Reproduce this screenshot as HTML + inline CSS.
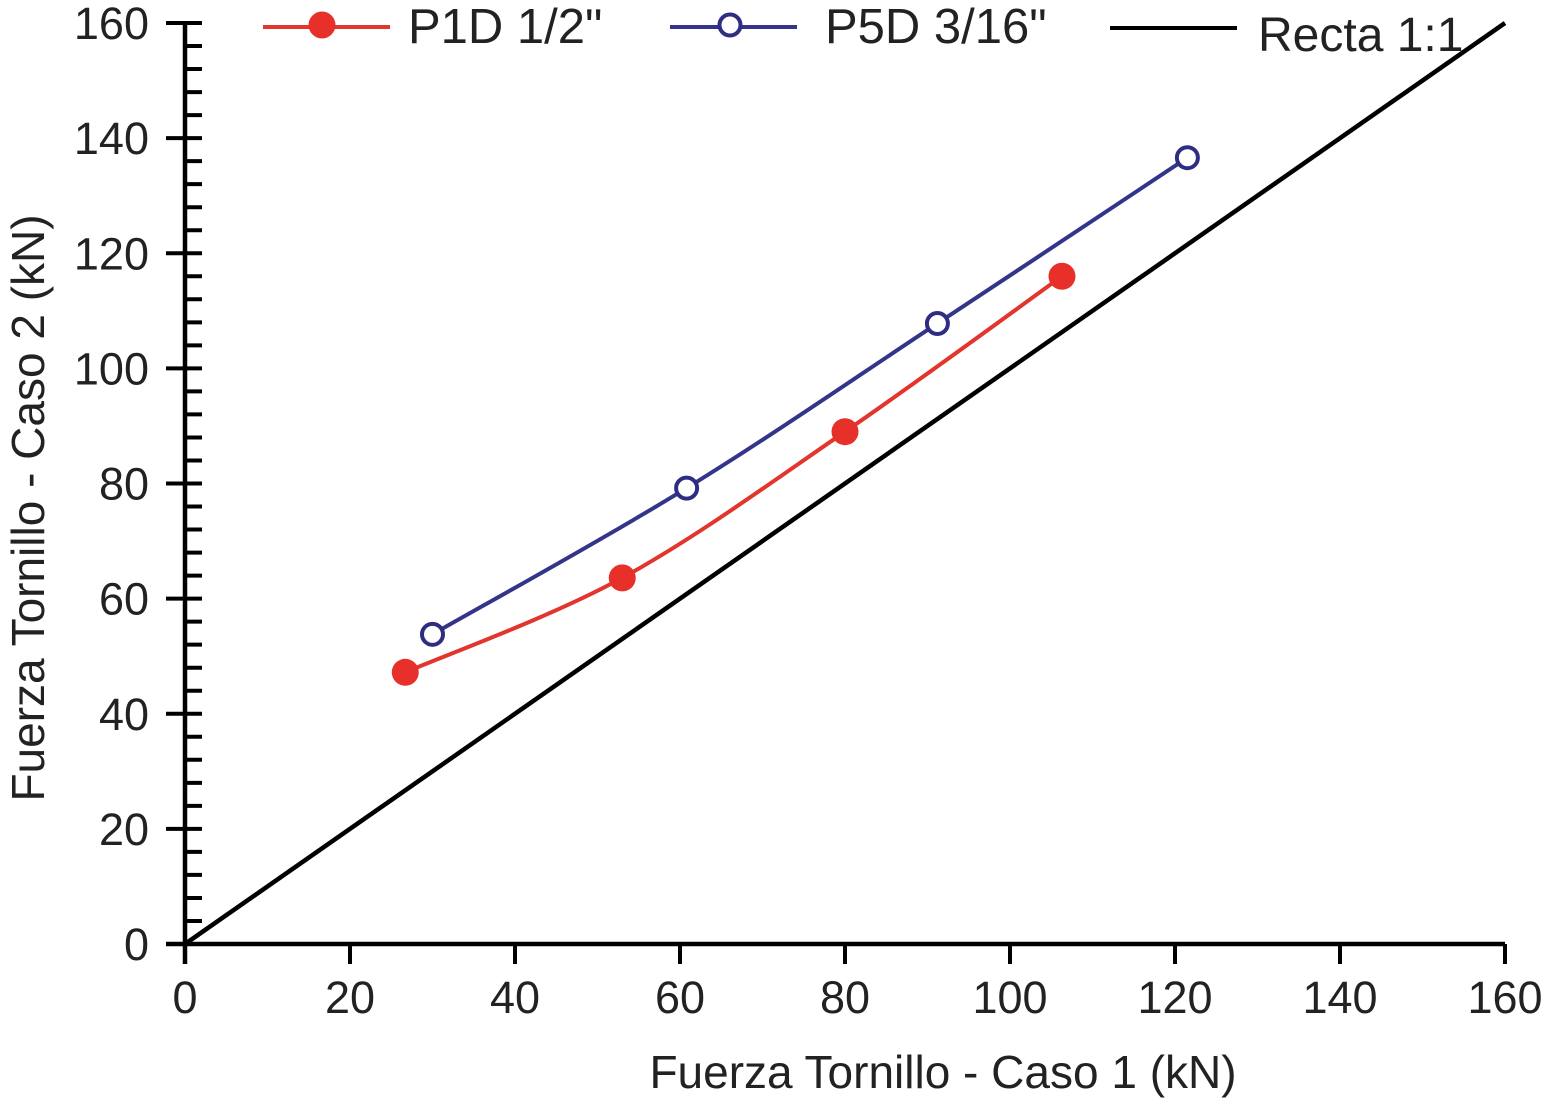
<!DOCTYPE html>
<html><head><meta charset="utf-8"><style>
html,body{margin:0;padding:0;background:#fff;}
svg{display:block;font-family:"Liberation Sans",Arial,sans-serif;}
</style></head><body>
<svg id="chart" width="1546" height="1110" viewBox="0 0 1546 1110"></svg>
<script>
const xTicks=[0,20,40,60,80,100,120,140,160];
const yTicks=[0,20,40,60,80,100,120,140,160];
const p1dX=[26.7,53,80,106.3];
const p1dY=[47.2,63.6,89,116];
const p5dX=[30,60.8,91.2,121.5];
const p5dY=[53.8,79.2,107.8,136.6];
const refX=[0,160];
const refY=[0,160];

const X0=185,X1=1505,Y0=944,Y1=23;
const sx=v=>X0+(v-0)/(160-0)*(X1-X0);
const sy=v=>Y0-(v-0)/(160-0)*(Y0-Y1);
const svg=document.getElementById('chart');
const NS='http://www.w3.org/2000/svg';
function mk(tag,attrs,parent){const e=document.createElementNS(NS,tag);for(const k in attrs)e.setAttribute(k,attrs[k]);(parent||svg).appendChild(e);return e;}

let g=mk('g',{});


let ya=mk('line',{x1:X0,y1:Y1-2,x2:X0,y2:Y0+20,stroke:'#000','stroke-width':4.5},g);


let xa=mk('line',{x1:X0-19,y1:Y0,x2:X1,y2:Y0,stroke:'#000','stroke-width':4.5},g);


for(let v=0;v<=160;v+=4){
  const major=v%20===0;
  const t=mk('line',{x1:major?X0-19:X0,y1:sy(v),x2:X0+17,y2:sy(v),stroke:'#000','stroke-width':4},g);
  
  
}
yTicks.forEach(v=>{
  const t=mk('text',{x:X0-36,y:sy(v)+16,'text-anchor':'end','font-size':45,fill:'#222'},g);
  t.textContent=v;
  
  
});
xTicks.forEach(v=>{
  const t=mk('line',{x1:sx(v),y1:Y0,x2:sx(v),y2:Y0+20,stroke:'#000','stroke-width':4},g);
  
  
  const l=mk('text',{x:sx(v),y:1013,'text-anchor':'middle','font-size':45,fill:'#222'},g);
  l.textContent=v;
  
  
});
let xt=mk('text',{x:943,y:1088,'text-anchor':'middle','font-size':46,fill:'#222'});
xt.textContent='Fuerza Tornillo - Caso 1 (kN)';


let yt=mk('text',{x:0,y:0,'text-anchor':'middle','font-size':46,fill:'#222',transform:'translate(44,508) rotate(-90)'});
yt.textContent='Fuerza Tornillo - Caso 2 (kN)';



let rl=mk('line',{x1:sx(refX[0]),y1:sy(refY[0]),x2:sx(refX[1]),y2:sy(refY[1]),stroke:'#000','stroke-width':4.5});



function smooth(xs,ys){
  const p=xs.map((x,i)=>[sx(x),sy(ys[i])]);
  let d='M'+p[0][0]+','+p[0][1];
  for(let i=0;i<p.length-1;i++){
    const p0=p[i-1]||p[i],p1=p[i],p2=p[i+1],p3=p[i+2]||p2;
    const c1=[p1[0]+(p2[0]-p0[0])/6,p1[1]+(p2[1]-p0[1])/6];
    const c2=[p2[0]-(p3[0]-p1[0])/6,p2[1]-(p3[1]-p1[1])/6];
    d+=' C'+c1+' '+c2+' '+p2;
  }
  return d;
}
let red=mk('path',{d:smooth(p1dX,p1dY),fill:'none',stroke:'#e2352d','stroke-width':4});


let blue=mk('path',{d:smooth(p5dX,p5dY),fill:'none',stroke:'#34348a','stroke-width':4});


p1dX.forEach((x,i)=>{
  const c=mk('circle',{cx:sx(x),cy:sy(p1dY[i]),r:13.5,fill:'#e8302a'});
  
  
});
p5dX.forEach((x,i)=>{
  const c=mk('circle',{cx:sx(x),cy:sy(p5dY[i]),r:10.5,fill:'#fff',stroke:'#2e2d82','stroke-width':4});
  
  
});

let lg=mk('g',{});


let e1=mk('line',{x1:263,y1:27,x2:390,y2:27,stroke:'#e2352d','stroke-width':4},lg);


let e1c=mk('circle',{cx:322,cy:25,r:13.5,fill:'#e8302a'},lg);


let e1t=mk('text',{x:408,y:43,'font-size':49,fill:'#222'},lg);
e1t.textContent='P1D 1/2"';


let e2=mk('line',{x1:670,y1:27,x2:797,y2:27,stroke:'#34348a','stroke-width':4},lg);


let e2c=mk('circle',{cx:730,cy:25,r:10.5,fill:'#fff',stroke:'#2e2d82','stroke-width':4},lg);


let e2t=mk('text',{x:825,y:43,'font-size':49,fill:'#222'},lg);
e2t.textContent='P5D 3/16"';


let e3=mk('line',{x1:1110,y1:28,x2:1237,y2:28,stroke:'#000','stroke-width':4},lg);


let e3t=mk('text',{x:1258,y:51,'font-size':48,fill:'#222'},lg);
e3t.textContent='Recta 1:1';


</script>
</body></html>
